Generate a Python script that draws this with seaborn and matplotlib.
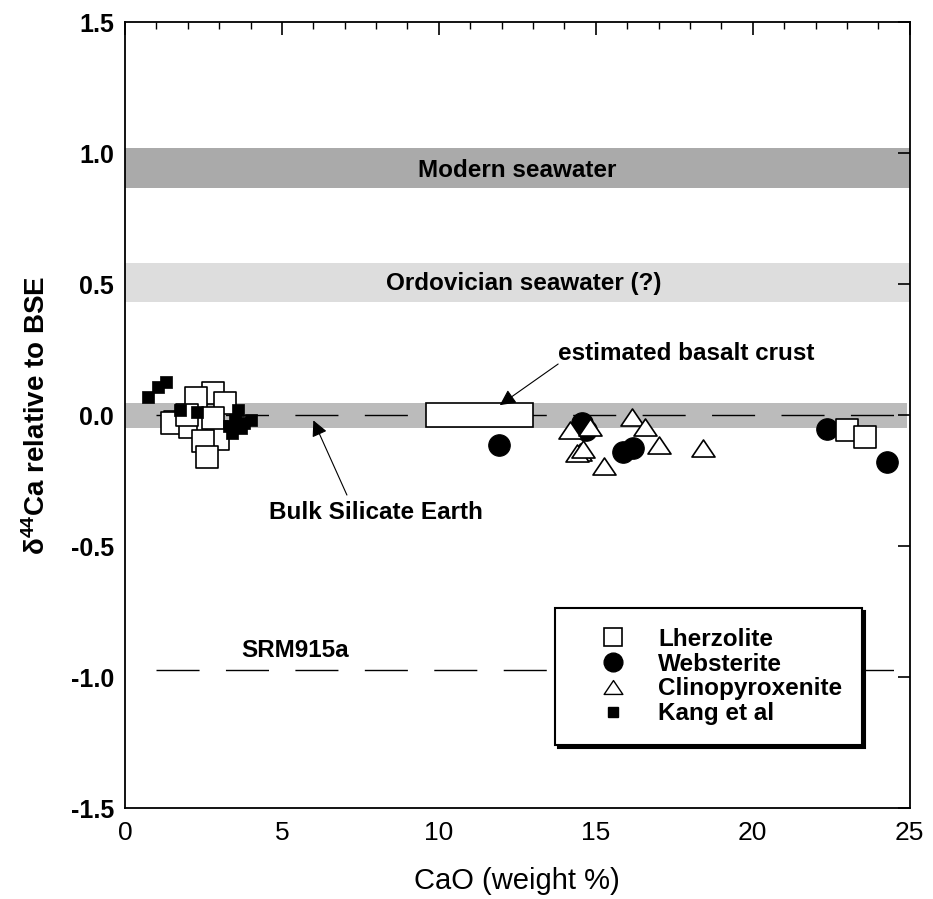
import numpy as np
import pandas as pd
import matplotlib
matplotlib.use("Agg")
import matplotlib.pyplot as plt
import seaborn as sns
from matplotlib.path import Path
from matplotlib.ticker import MultipleLocator

# Data
lherz_cao = [2.8, 2.26, 3.18, 1.6, 1.5, 2.07, 2.65, 2.93, 2.96, 2.5, 2.6, 1.98, 2.8, 23.0, 23.57]
lherz_d44 = [0.084, 0.065, 0.045, -0.026, -0.03, -0.045, -0.03, -0.065, -0.09, -0.10, -0.16, 0.0, -0.01, -0.057, -0.084]

webst_cao = [11.9, 14.55, 14.7, 15.86, 16.2, 22.35, 24.27]
webst_d44 = [-0.115, -0.03, -0.057, -0.14, -0.127, -0.053, -0.18]

cpx_cao = [14.18, 14.8, 16.15, 16.56, 17.0, 18.4, 14.5, 14.4, 14.6, 15.25]
cpx_d44 = [-0.057, -0.045, -0.008, -0.045, -0.115, -0.127, -0.14, -0.145, -0.13, -0.195]

kang_cao = [0.73, 1.05, 1.31, 1.75, 2.3, 3.3, 3.5, 3.6, 3.4, 3.8, 4.0, 3.7]
kang_d44 = [0.069, 0.107, 0.126, 0.02, 0.01, -0.04, -0.02, 0.02, -0.07, -0.03, -0.02, -0.05]

# reference bands (y ranges)
modern_band = (0.866, 1.02)
ordo_band = (0.43, 0.58)
bse_band = (-0.05, 0.045)
basalt_box = (9.6, 13.0, -0.045, 0.045)
srm915a = -0.973

sns.set_theme(style="white")
plt.rcParams['font.family'] = ['Liberation Sans', 'DejaVu Sans']
plt.rcParams['mathtext.fontset'] = 'custom'
plt.rcParams['mathtext.rm'] = 'Liberation Sans:bold'
for key in ['text.color', 'axes.labelcolor', 'xtick.color', 'ytick.color', 'axes.edgecolor']:
    plt.rcParams[key] = 'black'

# slightly flattened triangle, as in the original
tri = Path([(-1, -0.74), (1, -0.74), (0, 0.74), (-1, -0.74)],
           [Path.MOVETO, Path.LINETO, Path.LINETO, Path.CLOSEPOLY])

fig = plt.figure(figsize=(9.33, 8.99), dpi=100)
ax = fig.add_axes([0.134, 0.101, 0.841, 0.8745])

# grey bands
ax.axhspan(*modern_band, color='#aaaaaa', lw=0, zorder=0)
ax.axhspan(*ordo_band, color='#dddddd', lw=0, zorder=0)
ax.axhspan(*bse_band, xmin=0, xmax=0.996, color='#bbbbbb', lw=0, zorder=0)

# dashed reference lines
ax.plot([1.0, 25], [0, 0], color='black', lw=1, dashes=(31, 19), zorder=1)
ax.plot([1.0, 25], [srm915a, srm915a], color='black', lw=1, dashes=(31, 19), zorder=1)

# estimated basalt crust box
ax.add_patch(plt.Rectangle((basalt_box[0], basalt_box[2]), basalt_box[1] - basalt_box[0],
                           basalt_box[3] - basalt_box[2], facecolor='white',
                           edgecolor='black', lw=1.2, zorder=2))

sns.scatterplot(x=webst_cao, y=webst_d44, marker='o', s=240, color='black',
                edgecolor='black', linewidth=0.8, ax=ax, zorder=3)
sns.scatterplot(x=cpx_cao, y=cpx_d44, marker=tri, s=275, facecolor='white',
                edgecolor='black', linewidth=1.2, ax=ax, zorder=4)
sns.scatterplot(x=lherz_cao, y=lherz_d44, marker='s', s=230, facecolor='white',
                edgecolor='black', linewidth=1.2, ax=ax, zorder=5)
sns.scatterplot(x=kang_cao, y=kang_d44, marker='s', s=85, color='black',
                edgecolor='black', linewidth=0.5, ax=ax, zorder=6)

# text labels
bold = dict(fontsize=17.5, fontweight='bold', ha='center', va='center')
ax.text(12.5, 0.935, 'Modern seawater', **bold)
ax.text(12.7, 0.504, 'Ordovician seawater (?)', **bold)
ax.text(5.43, -0.90, 'SRM915a', **bold)
ax.text(13.8, 0.237, 'estimated basalt crust', fontsize=17.5, fontweight='bold',
        ha='left', va='center')
ax.text(8.0, -0.37, 'Bulk Silicate Earth', **bold)
arrow = dict(arrowstyle='-|>', color='black', lw=0.8, mutation_scale=24,
             shrinkA=0, shrinkB=0)
ax.annotate('', xy=(11.94, 0.038), xytext=(13.8, 0.195), arrowprops=arrow)
ax.annotate('', xy=(6.0, -0.02), xytext=(7.07, -0.305), arrowprops=arrow)

# legend
handles = [
    plt.Line2D([], [], ls='', marker='s', ms=13, mfc='white', mec='black', mew=1.2),
    plt.Line2D([], [], ls='', marker='o', ms=13.5, mfc='black', mec='black'),
    plt.Line2D([], [], ls='', marker=tri, ms=13.5, mfc='white', mec='black', mew=1.0),
    plt.Line2D([], [], ls='', marker='s', ms=6.5, mfc='black', mec='black'),
]
labels = ['Lherzolite', 'Websterite', 'Clinopyroxenite', 'Kang et al']
leg = ax.legend(handles, labels, loc='upper left', bbox_to_anchor=(0.548, 0.2545),
                frameon=True, fancybox=False,
                shadow={'color': 'black', 'alpha': 1},
                prop={'weight': 'bold', 'size': 17.5}, handletextpad=0.3,
                labelspacing=0.08, borderpad=0.8, handlelength=3.15,
                borderaxespad=0)
leg.get_frame().set_edgecolor('black')
leg.get_frame().set_linewidth(1.5)
leg.get_frame().set_alpha(1)
leg.set_zorder(10)

# axes
ax.set_xlim(0, 25)
ax.set_ylim(-1.5, 1.5)
ax.xaxis.set_major_locator(MultipleLocator(5))
ax.xaxis.set_minor_locator(MultipleLocator(1))
yt = np.arange(-1.5, 1.51, 0.5)
ax.set_yticks(yt)
ax.set_yticklabels(['%.1f' % v for v in yt], fontweight='bold', fontsize=18)
ax.tick_params(axis='both', which='both', direction='in', top=True, right=True, color='black')
ax.tick_params(axis='both', which='major', length=9, width=1.2)
ax.tick_params(axis='x', which='minor', length=5, width=1)
ax.tick_params(axis='x', which='major', labelsize=19, pad=9)
ax.tick_params(axis='y', which='major', pad=8)
for sp in ax.spines.values():
    sp.set_color('black')
    sp.set_linewidth(1.3)

ax.set_xlabel('CaO (weight %)', fontsize=21, labelpad=16)
ax.set_ylabel(r'$\mathregular{\delta^{44}}$Ca relative to BSE', fontsize=20,
              fontweight='bold', labelpad=14)

fig.savefig('out.png', dpi=100)
